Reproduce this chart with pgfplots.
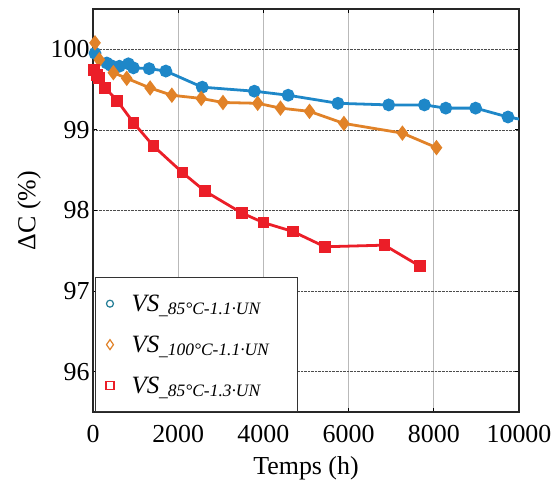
\documentclass[border=0pt]{standalone}
\usepackage{pgfplots}
\pgfplotsset{compat=1.18}
\usepackage{fontspec}
\setmainfont{Liberation Serif}
\definecolor{cblue}{RGB}{30,135,200}
\definecolor{corange}{RGB}{225,130,40}
\definecolor{cred}{RGB}{235,30,40}
\definecolor{cteal}{RGB}{35,125,150}
\begin{document}
\begin{tikzpicture}
\begin{axis}[
  scale only axis, width=426bp, height=403bp,
  xmin=0, xmax=10000, ymin=95.5, ymax=100.5,
  xtick={0,2000,...,10000}, ytick={96,97,98,99,100},
  /pgf/number format/1000 sep={},
  /pgf/number format/assume math mode=true,
  scaled x ticks=false,
  tick align=inside, major tick length=4bp,
  tick style={black, line width=0.8pt},
  axis line style={black!85, line width=1.2pt},
  xmajorgrids, ymajorgrids,
  x grid style={gray!55, line width=0.8pt},
  y grid style={black!70, densely dotted, line width=0.6pt},
  ticklabel style={font=\fontsize{26}{30}\selectfont},
  xticklabel style={yshift=-10bp},
  label style={font=\fontsize{26}{30}\selectfont},
  xlabel={Temps (h)}, ylabel={ΔC (\%)},
  xlabel style={yshift=-7bp},
  ylabel style={yshift=3bp},
  legend cell align=left,
  legend style={at={(rel axis cs:0,0)}, anchor=south west, xshift=2bp,
    font=\fontsize{25}{28}\selectfont\itshape, draw=black!80, line width=0.8pt,
    row sep=19bp, inner xsep=10bp, inner ysep=15bp},
]
\addplot[forget plot, cblue, line width=2.8pt, mark=*, mark size=5pt] coordinates {
(47,99.95) (322,99.83) (416,99.80) (620,99.79) (831,99.82) (949,99.77) (1318,99.76) (1710,99.73) (2565,99.53) (3788,99.48) (4581,99.43) (5749,99.33) (6941,99.31) (7780,99.31) (8282,99.27) (8981,99.27) (9741,99.16) (10050,99.13)};
\addplot[forget plot, corange, line width=2.8pt, mark=diamond*, mark size=5.5pt] coordinates {
(47,100.08) (148,99.87) (478,99.71) (792,99.64) (1341,99.52) (1851,99.43) (2541,99.39) (3051,99.34) (3866,99.33) (4400,99.27) (5082,99.23) (5890,99.08) (7263,98.96) (8063,98.78)};
\addplot[forget plot, cred, line width=2.8pt, mark=square*, mark size=4.5pt] coordinates {
(31,99.74) (87,99.68) (148,99.64) (290,99.52) (572,99.36) (949,99.09) (1419,98.80) (2101,98.47) (2628,98.24) (3490,97.97) (4000,97.85) (4690,97.74) (5443,97.55) (6840,97.57) (7671,97.31)};
\addlegendimage{legend image code/.code={\draw[draw=cteal, line width=1.2pt] (0.3cm,0) circle[radius=3.5pt];}}
\addlegendentry{\makebox[169bp][l]{\hspace{15bp}VS\textsubscript{\_85°C-1.1·UN}}}
\addlegendimage{legend image code/.code={\draw[draw=corange, line width=1.2pt] (0.3cm,5pt) -- (0.3cm+3.5pt,0) -- (0.3cm,-5pt) -- (0.3cm-3.5pt,0) -- cycle;}}
\addlegendentry{\makebox[169bp][l]{\hspace{15bp}VS\textsubscript{\_100°C-1.1·UN}}}
\addlegendimage{legend image code/.code={\draw[draw=cred, line width=1.2pt] (0.3cm-4pt,-4pt) rectangle (0.3cm+4pt,4pt);}}
\addlegendentry{\makebox[169bp][l]{\hspace{15bp}VS\textsubscript{\_85°C-1.3·UN}}}
\end{axis}
\pgfresetboundingbox
\path[use as bounding box] (-93bp,-74bp) rectangle (462bp,412bp);
\end{tikzpicture}
\end{document}
